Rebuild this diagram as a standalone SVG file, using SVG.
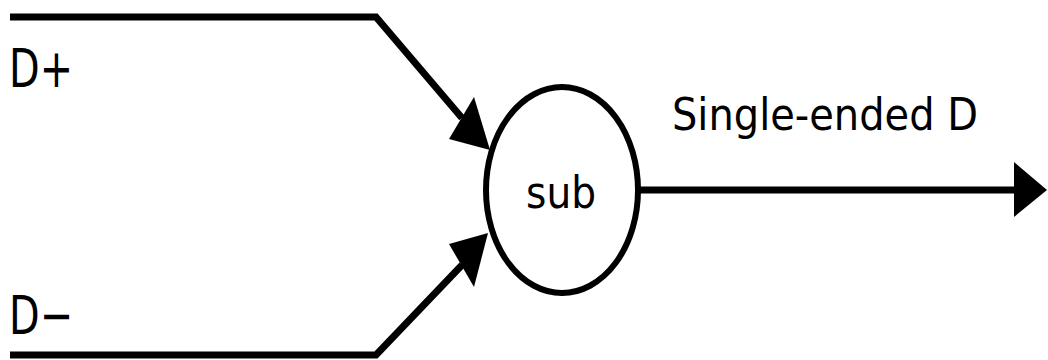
<svg xmlns="http://www.w3.org/2000/svg" width="1048" height="360" viewBox="0 0 1048 360">
  <style>
    .wire { fill: none; stroke: #000; stroke-width: 7; stroke-linejoin: miter; }
    .head { fill: #000; stroke: none; }
    .node { fill: #fff; stroke: #000; stroke-width: 6; }
    .lbl { font-family: "DejaVu Sans", "Liberation Sans", sans-serif; fill: #000; }
  </style>
  <rect width="1048" height="360" fill="#fff"/>
  <g id="connectors">
    <path class="wire" d="M10,17 H376 L462,118"/>
    <polygon class="head" points="490,150 449,139 474,97"/>
    <path class="wire" d="M10,355 H376 L462,265"/>
    <polygon class="head" points="488,233 474,287 449,244"/>
    <path class="wire" d="M640,190 H1016"/>
    <polygon class="head" points="1047,190 1014,162 1014,217"/>
  </g>
  <g id="node-sub">
    <ellipse class="node" cx="562" cy="190" rx="76" ry="103"/>
    <text class="lbl" x="526" y="208" font-size="44" textLength="70" lengthAdjust="spacingAndGlyphs">sub</text>
  </g>
  <g id="label-dplus">
    <text class="lbl" x="9" y="87" font-size="54" textLength="64" lengthAdjust="spacingAndGlyphs">D+</text>
  </g>
  <g id="label-dminus">
    <text class="lbl" x="9" y="334" font-size="54" textLength="64" lengthAdjust="spacingAndGlyphs">D−</text>
  </g>
  <g id="label-out">
    <text class="lbl" x="672" y="130" font-size="44" textLength="306" lengthAdjust="spacingAndGlyphs">Single-ended D</text>
  </g>
</svg>
